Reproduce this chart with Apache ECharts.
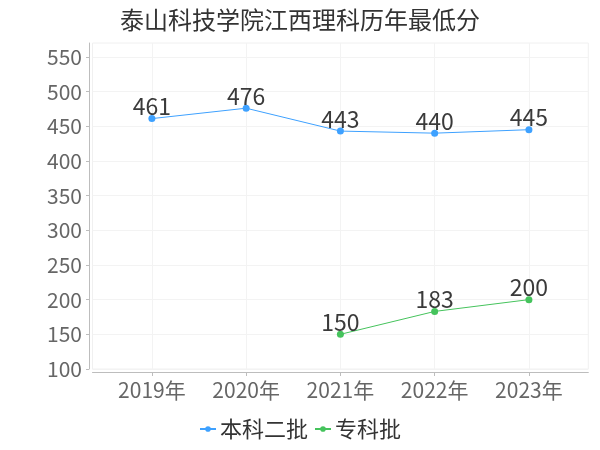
<!DOCTYPE html>
<html>
<head>
<meta charset="utf-8">
<script src="https://cdn.jsdelivr.net/npm/echarts@6/dist/echarts.min.js"></script>
<style>html,body{margin:0;padding:0;background:#fff}#c{width:600px;height:450px}</style>
</head>
<body>
<div id="c"></div>
<script>
const titleText = '泰山科技学院江西理科历年最低分';
const years = ['2019年', '2020年', '2021年', '2022年', '2023年'];
const yearIdx = [0, 1, 2, 3, 4];
const seriesNames = ['本科二批', '专科批'];
const benke2 = [461, 476, 443, 440, 445];
const zhuanke = [null, null, 150, 183, 200];
const yTicks = [100, 150, 200, 250, 300, 350, 400, 450, 500, 550];

const FONT = '"Noto Sans CJK SC", "Noto Sans", sans-serif';
const toPairs = arr => arr.map((v, i) => [yearIdx[i], v]).filter(p => p[1] !== null);

const chart = echarts.init(document.getElementById('c'), null, {renderer: 'canvas'});
chart.setOption({
  animation: false,
  textStyle: {fontFamily: FONT},
  title: {
    text: titleText, left: 'center', top: 3,
    textStyle: {fontFamily: FONT, fontSize: 24, fontWeight: 'normal', color: '#333'}
  },
  legend: {
    data: seriesNames, bottom: 5, left: 'center',
    itemWidth: 16, itemHeight: 7, itemGap: 6,
    textStyle: {fontFamily: FONT, fontSize: 22, color: '#333', padding: [0, 0, 0, -1]}
  },
  grid: {
    left: 92.5, right: 11.7, top: 43, bottom: 81,
    show: true, borderColor: '#f0f0f0', borderWidth: 1
  },
  xAxis: {
    type: 'value', min: -0.63, max: 4.63,
    offset: 3,
    axisLine: {show: true, onZero: false, lineStyle: {color: '#bdbdbd', width: 1}},
    axisTick: {show: true, length: 4, customValues: yearIdx, lineStyle: {color: '#bdbdbd'}},
    axisLabel: {
      customValues: yearIdx, margin: 8,
      formatter: v => years[Math.round(v)] || '',
      fontFamily: FONT, fontSize: 21, color: '#666'
    },
    splitLine: {show: true, lineStyle: {color: '#f3f3f3', width: 1}}
  },
  yAxis: {
    type: 'value', min: 100, max: 570, interval: 50,
    offset: 3.5,
    axisLine: {show: true, onZero: false, lineStyle: {color: '#bdbdbd', width: 1}},
    axisTick: {show: true, length: 3, customValues: yTicks, lineStyle: {color: '#bdbdbd'}},
    axisLabel: {
      customValues: yTicks, margin: 7,
      fontFamily: FONT, fontSize: 21, color: '#666'
    },
    splitLine: {show: true, lineStyle: {color: '#f3f3f3', width: 1}}
  },
  series: [
    {
      name: seriesNames[0], type: 'line', data: toPairs(benke2),
      symbol: 'circle', symbolSize: 7,
      itemStyle: {color: '#3ea1ff'},
      lineStyle: {color: '#3ea1ff', width: 1},
      label: {show: true, position: 'top', distance: -3, fontFamily: FONT, fontSize: 23, color: '#3a3a3a'}
    },
    {
      name: seriesNames[1], type: 'line', data: toPairs(zhuanke),
      symbol: 'circle', symbolSize: 7,
      itemStyle: {color: '#45c35c'},
      lineStyle: {color: '#45c35c', width: 1},
      label: {show: true, position: 'top', distance: -3, fontFamily: FONT, fontSize: 23, color: '#3a3a3a'}
    }
  ]
});
</script>
</body>
</html>
